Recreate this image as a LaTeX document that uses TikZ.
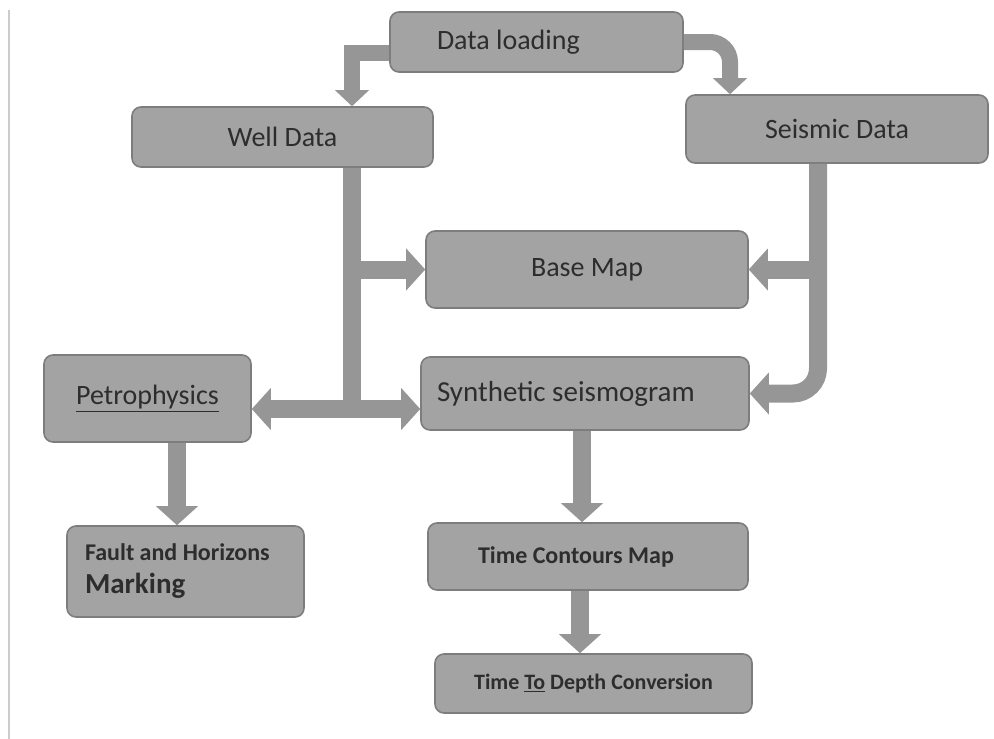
\documentclass[tikz,border=0pt]{standalone}
\usepackage{fontspec}
\setmainfont{Carlito}
\usetikzlibrary{positioning, arrows.meta}
\definecolor{boxgray}{RGB}{163,163,163}
\definecolor{edgegray}{RGB}{125,125,125}
\definecolor{arrowgray}{RGB}{150,150,150}
\definecolor{labelgray}{RGB}{45,45,45}
\tikzset{
	stepbox/.style={draw=edgegray, line width=1.6pt, fill=boxgray, rounded corners=9pt,
		inner sep=0pt, align=center, text=labelgray, font=\fontsize{28}{32}\selectfont},
	flow/.style={draw=arrowgray, line width=18pt,
		-{Triangle[width=42pt,length=19pt,line width=0pt]}},
	flowboth/.style={draw=arrowgray, line width=18pt,
		{Triangle[width=42pt,length=19pt,line width=0pt]}-{Triangle[width=42pt,length=19pt,line width=0pt]}},
	flowbar/.style={draw=arrowgray, line width=18pt},
	thinflow/.style={draw=arrowgray, line width=16pt,
		-{Triangle[width=34pt,length=16pt,line width=0pt]}},
	pagerule/.style={draw=gray!40, line width=1.2pt}
}

\begin{document}
\begin{tikzpicture}[x=1pt, y=-1pt]
\useasboundingbox (0,0) rectangle (994,739);
\draw[pagerule] (9,10) -- (9,739);

\node[stepbox, text width=199pt, inner xsep=47pt, minimum height=60pt, align=flush left] (load) at (536.5,42) {Data loading};
\node[stepbox, minimum width=301pt, minimum height=60pt] (well) at (282.5,137) {Well Data};
\node[stepbox, minimum width=302pt, minimum height=68pt] (seis) at (837,129) {Seismic Data};
\node[stepbox, minimum width=322pt, minimum height=77pt] (base) at (587,269.5) {Base Map};
\node[stepbox, minimum width=207pt, minimum height=87pt] (petro) at (147.5,398.5) {\underline{Petrophysics}};
\node[stepbox, text width=296pt, inner xsep=16pt, minimum height=73pt, align=flush left,
	font=\fontsize{29}{34}\selectfont] (synth) at (585,393.5) {Synthetic seismogram};
\node[stepbox, text width=201pt, inner xsep=18pt, minimum height=91pt, align=flush left,
	font=\fontsize{24}{33}\selectfont\bfseries] (fault) at (185.5,571.5) {Fault and Horizons\\{\fontsize{29}{34}\selectfont Marking}};
\node[stepbox, text width=220pt, inner xsep=50pt, minimum height=67pt, align=flush left,
	font=\fontsize{24}{28}\selectfont\bfseries] (tcm) at (588,556.5) {Time Contours Map};
\node[stepbox, minimum width=317pt, minimum height=59pt,
	font=\fontsize{22}{26}\selectfont\bfseries] (ttd) at (593.5,683.5) {Time \underline{To} Depth Conversion};

\coordinate (wellfoot) at (352,409);
\coordinate (seisin) at (730,0);
\coordinate (seisdrop) at (818,0);
\coordinate (synthdrop) at (582,0);
\coordinate (tcmdrop) at (580,0);
\coordinate (petrodrop) at (177,0);

\draw[thinflow] ([yshift=-11pt]load.west) -| (well.north -| wellfoot);
\draw[thinflow, rounded corners=20pt] (load.east) -| (seis.north -| seisin);

\draw[flowbar] (well.south -| wellfoot) -- (wellfoot);
\draw[flow] (wellfoot |- base.west) -- (base.west);
\draw[flowboth] (petro.east |- wellfoot) -- (synth.west |- wellfoot);

\draw[flow, rounded corners=25pt] (seis.south -| seisdrop) |- (synth.east);
\draw[flow] (seisdrop |- base.east) -- (base.east);

\draw[flow] (synth.south -| synthdrop) -- (tcm.north -| synthdrop);
\draw[flow] (tcm.south -| tcmdrop) -- (ttd.north -| tcmdrop);
\draw[flow] (petro.south -| petrodrop) -- (fault.north -| petrodrop);
\end{tikzpicture}
\end{document}
